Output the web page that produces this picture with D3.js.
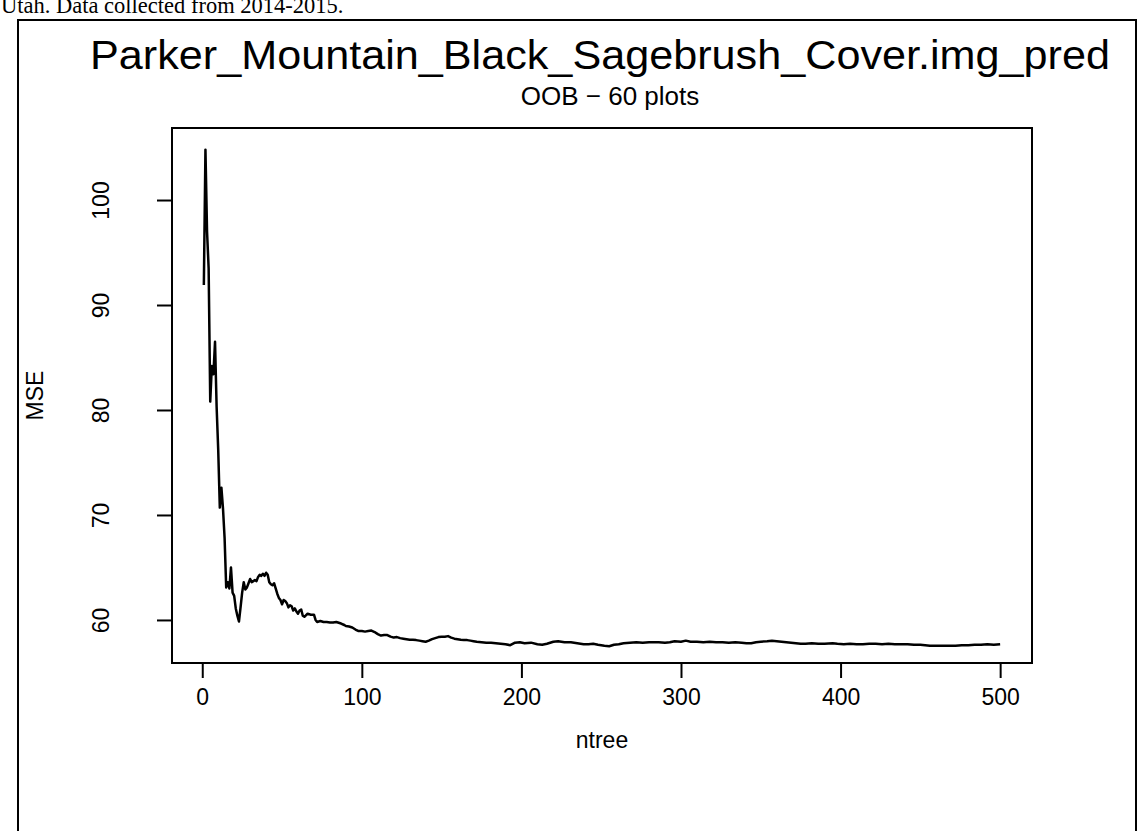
<!DOCTYPE html>
<html>
<head>
<meta charset="utf-8">
<script src="https://cdn.jsdelivr.net/npm/d3@7"></script>
<style>
  html, body { margin: 0; padding: 0; background: #fff; }
  svg { display: block; }
</style>
</head>
<body>
<svg id="chart" width="1138" height="831"></svg>
<script>
// ---- data ----
const ntree = [1,2,3,4,5,6,7,8,9,10,11,12,13,14,15,16,17,18,19,20,21,22,23,24,25,26,27,28,29,30,
  31,32,33,34,35,36,37,38,39,40,41,42,43,44,45,46,47,48,49,50,51,52,53,54,55,56,57,58,59,60,
  61,62,63,64,66,68,70,71,72,74,76,78,80,82,84,86,87,89,90,92,94,96,98,100,102,104,106,108,110,
  112,114,116,118,120,122,124,126,128,130,132,134,136,138,140,142,144,146,148,150,152,154,156,158,
  160,162,164,166,168,170,172,175,178,181,184,187,190,193,196,199,202,206,210,213,216,220,223,227,
  231,235,239,242,245,248,252,255,258,261,264,268,272,276,280,283,286,290,293,296,300,303,306,310,
  314,318,322,326,330,334,338,341,344,347,350,354,357,360,363,366,369,372,375,378,382,386,390,395,
  398,402,406,410,414,418,422,426,430,434,438,442,446,450,453,456,460,464,468,472,476,480,484,488,
  492,496,500];
const mse = [91.9,104.8,97.0,93.5,80.8,84.2,83.4,86.5,80.3,76.2,70.7,72.6,70.6,67.8,63.1,63.6,63.0,65.0,62.6,62.3,
  61.1,60.4,59.85,61.2,62.6,63.6,62.9,63.1,63.5,63.9,
  63.6,63.7,63.8,63.7,64.1,64.3,64.2,64.4,64.2,64.5,64.3,63.6,63.4,63.3,63.5,63.0,62.5,62.1,61.9,61.5,
  61.9,61.8,61.6,61.2,61.4,61.3,60.9,61.1,60.8,60.6,
  60.9,61.0,60.4,60.3,60.6,60.5,60.5,60.0,59.81,59.90,59.81,59.81,59.76,59.76,59.81,59.71,59.66,59.52,59.42,59.37,
  59.28,59.09,58.94,58.94,58.89,58.94,58.99,58.85,58.65,
  58.51,58.56,58.56,58.41,58.32,58.37,58.27,58.22,58.17,58.12,58.12,58.08,58.03,57.98,57.93,58.03,58.17,58.27,58.37,58.41,
  58.41,58.46,58.32,58.22,
  58.17,58.12,58.08,58.08,58.03,57.98,57.93,57.88,57.84,57.84,57.79,57.74,57.69,57.60,57.84,57.88,57.79,57.84,57.69,57.64,
  57.74,57.93,57.98,57.88,
  57.88,57.79,57.69,57.69,57.74,57.64,57.55,57.50,57.64,57.69,57.79,57.84,57.88,57.84,57.88,57.88,57.88,57.84,57.88,57.98,
  57.93,58.03,57.93,57.93,
  57.88,57.93,57.88,57.88,57.84,57.88,57.84,57.79,57.79,57.88,57.93,57.98,58.03,57.98,57.93,57.88,57.84,57.79,57.74,57.74,
  57.79,57.74,57.74,57.79,
  57.74,57.69,57.74,57.69,57.69,57.74,57.74,57.69,57.74,57.69,57.69,57.69,57.64,57.64,57.60,57.55,57.55,57.55,57.55,57.55,
  57.60,57.60,57.64,57.64,
  57.69,57.64,57.69];
const xTicks = [0, 100, 200, 300, 400, 500];
const yTicks = [60, 70, 80, 90, 100];
const xDomain = [-18.96, 519.96];
const yDomain = [55.9, 106.86];
const titleText = "Parker_Mountain_Black_Sagebrush_Cover.img_pred";
const subtitleText = "OOB \u2212 60 plots";
const xLabel = "ntree";
const yLabel = "MSE";
const captionText = "Utah. Data collected from 2014-2015.";

// ---- layout ----
const svg = d3.select("#chart");
const plot = { left: 172, right: 1032, top: 128, bottom: 663 };

const x = d3.scaleLinear().domain(xDomain).range([plot.left, plot.right]);
const y = d3.scaleLinear().domain(yDomain).range([plot.bottom, plot.top]);

const font = "'Liberation Sans', Arial, Helvetica, sans-serif";

// caption text cut at top (from surrounding document)
svg.append("text")
  .attr("x", 1).attr("y", 13)
  .attr("font-family", "'Liberation Serif', 'Times New Roman', serif")
  .attr("font-size", 22.5)
  .attr("fill", "#000")
  .text(captionText);

// outer frame
svg.append("rect")
  .attr("x", 18).attr("y", 20)
  .attr("width", 1118).attr("height", 840)
  .attr("fill", "none").attr("stroke", "#000").attr("stroke-width", 2);

// title and subtitle
svg.append("text")
  .attr("x", 600).attr("y", 69)
  .attr("text-anchor", "middle")
  .attr("font-family", font).attr("font-size", 40)
  .attr("textLength", 1020).attr("lengthAdjust", "spacingAndGlyphs")
  .text(titleText);

svg.append("text")
  .attr("x", 610).attr("y", 105)
  .attr("text-anchor", "middle")
  .attr("font-family", font).attr("font-size", 26)
  .text(subtitleText);

// plot box
svg.append("rect")
  .attr("x", plot.left).attr("y", plot.top)
  .attr("width", plot.right - plot.left).attr("height", plot.bottom - plot.top)
  .attr("fill", "none").attr("stroke", "#000").attr("stroke-width", 2);

// x axis
const xAxis = d3.axisBottom(x).tickValues(xTicks).tickSize(15).tickFormat(d3.format("d"));
const gx = svg.append("g").attr("transform", `translate(0,${plot.bottom})`).call(xAxis);
gx.select(".domain").remove();
gx.selectAll(".tick line").attr("stroke", "#000").attr("stroke-width", 2);
gx.selectAll(".tick text").attr("font-family", font).attr("font-size", 23).attr("fill", "#000")
  .attr("dy", null).attr("y", 42);

// y axis
const yAxis = d3.axisLeft(y).tickValues(yTicks).tickSize(15).tickFormat(d3.format("d"));
const gy = svg.append("g").attr("transform", `translate(${plot.left},0)`).call(yAxis);
gy.select(".domain").remove();
gy.selectAll(".tick line").attr("stroke", "#000").attr("stroke-width", 2);
gy.selectAll(".tick text")
  .attr("font-family", font).attr("font-size", 23).attr("fill", "#000")
  .attr("x", null).attr("dy", null)
  .attr("text-anchor", "middle")
  .attr("transform", "translate(-63,0) rotate(-90)");

// axis labels
svg.append("text")
  .attr("x", (plot.left + plot.right) / 2).attr("y", 748)
  .attr("text-anchor", "middle")
  .attr("font-family", font).attr("font-size", 23)
  .text(xLabel);

svg.append("text")
  .attr("transform", `translate(43,${(plot.top + plot.bottom) / 2}) rotate(-90)`)
  .attr("text-anchor", "middle")
  .attr("font-family", font).attr("font-size", 23)
  .text(yLabel);

// data line
const line = d3.line().x((d, i) => x(ntree[i])).y(d => y(d));
svg.append("path")
  .datum(mse)
  .attr("d", line)
  .attr("fill", "none")
  .attr("stroke", "#000")
  .attr("stroke-width", 2.5)
  .attr("stroke-linejoin", "round");
</script>
</body>
</html>
